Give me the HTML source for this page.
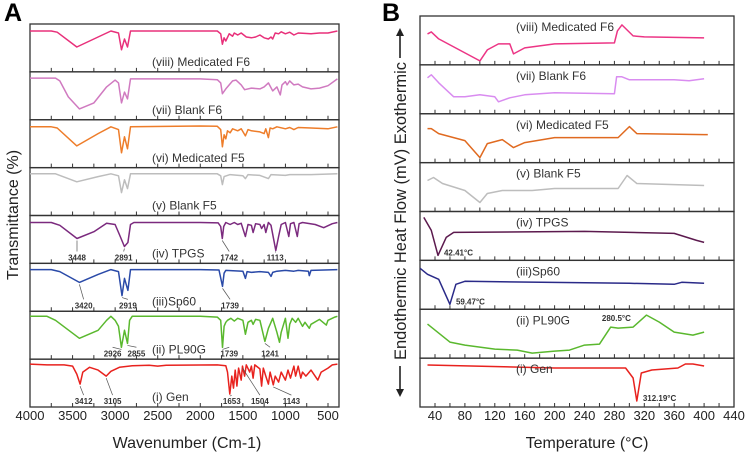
<!DOCTYPE html>
<html><head><meta charset="utf-8"><style>
body{margin:0;background:#fff;}
svg{display:block;font-family:"Liberation Sans",Arial,sans-serif;}
</style></head><body>
<svg id="fig" width="747" height="453" viewBox="0 0 747 453"></svg>
<script>
// ---------- Panel A: FTIR data (wavenumber, transmittance a.u.) ----------
const ftirNames = ["(viii) Medicated F6","(vii) Blank F6","(vi) Medicated F5","(v) Blank F5","(iv) TPGS","(iii)Sp60","(ii) PL90G","(i) Gen"];
const ftirColors = ["#e8307a","#d07ac0","#ee7d2a","#bdbdbd","#7b2a7e","#2a4aa8","#5ab82e","#e8221e"];
const ftirF6 = [[4000,95],[3750,95],[3680,92],[3450,55],[3200,80],[3050,95],[2960,90],[2925,48],[2890,75],[2855,55],[2820,95],[2500,95],[1800,95],[1760,88],[1740,62],[1720,78],[1700,70],[1660,88],[1620,82],[1600,90],[1560,85],[1520,90],[1460,80],[1400,78],[1350,80],[1300,85],[1250,78],[1200,75],[1170,80],[1150,75],[1120,90],[1080,88],[1050,93],[1000,88],[950,92],[900,85],[850,90],[700,88],[600,90],[500,90],[390,95]];
const ftirBlankF6 = [[4000,97],[3700,97],[3650,90],[3550,50],[3420,20],[3250,35],[3100,75],[3000,92],[2960,85],[2925,35],[2890,62],[2855,45],[2820,95],[2000,95],[1800,93],[1760,85],[1740,58],[1700,70],[1660,80],[1620,90],[1580,92],[1520,80],[1480,68],[1400,72],[1300,70],[1250,75],[1200,85],[1150,65],[1100,75],[1060,55],[1040,80],[1000,88],[980,80],[950,90],[900,80],[850,82],[800,75],[700,70],[600,72],[500,78],[390,95]];
const ftirF5 = [[4000,95],[3750,95],[3680,92],[3450,47],[3200,78],[3050,95],[2960,88],[2925,30],[2890,70],[2855,40],[2820,95],[2000,97],[1800,96],[1760,88],[1740,45],[1720,75],[1700,65],[1680,85],[1650,80],[1620,90],[1560,85],[1520,90],[1470,72],[1440,88],[1400,85],[1300,82],[1250,78],[1230,90],[1200,68],[1180,92],[1150,90],[1100,95],[1000,90],[950,93],[900,88],[850,93],[700,92],[500,90],[390,95]];
const ftirBlankF5 = [[4000,97],[3700,97],[3450,77],[3200,90],[3050,97],[2960,92],[2925,50],[2890,82],[2855,60],[2820,97],[1800,97],[1760,92],[1740,70],[1720,90],[1650,95],[1500,92],[1470,85],[1440,95],[1300,93],[1200,85],[1170,95],[1000,93],[950,95],[700,95],[390,97]];
const ftirTPGS = [[4000,95],[3750,95],[3650,88],[3448,55],[3250,72],[3100,93],[3000,90],[2950,65],[2891,35],[2850,45],[2820,90],[2780,95],[2000,95],[1790,94],[1760,85],[1742,55],[1725,85],[1700,95],[1650,90],[1600,95],[1560,90],[1520,93],[1470,60],[1440,90],[1400,88],[1380,70],[1350,92],[1300,90],[1280,80],[1250,90],[1230,70],[1200,95],[1170,88],[1113,25],[1080,60],[1050,90],[1000,95],[960,60],[940,92],[900,95],[860,60],[840,92],[800,95],[650,90],[550,82],[450,92],[390,95]];
const ftirSp60 = [[4000,97],[3750,97],[3650,92],[3420,65],[3200,85],[3050,97],[2960,92],[2919,32],[2890,75],[2850,45],[2820,97],[2000,97],[1780,96],[1739,55],[1720,88],[1700,95],[1500,93],[1470,75],[1450,92],[1400,90],[1300,92],[1200,90],[1170,80],[1150,90],[1100,93],[1000,95],[900,93],[850,95],[730,93],[720,82],[700,95],[390,97]];
const ftirPL90G = [[4000,100],[3800,100],[3700,90],[3420,45],[3200,65],[3100,90],[3050,100],[3000,90],[2960,75],[2926,22],[2890,65],[2855,32],[2830,90],[2800,100],[2000,100],[1800,98],[1760,90],[1739,22],[1720,75],[1700,85],[1680,90],[1640,95],[1600,88],[1560,95],[1500,90],[1470,55],[1440,85],[1400,90],[1380,80],[1350,92],[1300,90],[1241,37],[1200,70],[1170,85],[1150,95],[1100,60],[1070,35],[1050,60],[1000,95],[970,45],[950,80],[920,95],[880,85],[850,95],[800,75],[770,85],[720,70],[700,80],[600,92],[520,78],[500,90],[420,98],[390,100]];
const ftirGen = [[4000,100],[3800,98],[3600,98],[3500,95],[3450,75],[3412,50],[3380,80],[3300,92],[3200,85],[3105,70],[3050,82],[2950,92],[2800,96],[2600,97],[2500,95],[2400,97],[1800,98],[1700,96],[1680,80],[1653,25],[1630,70],[1610,40],[1590,85],[1570,45],[1550,90],[1520,60],[1504,95],[1480,70],[1460,98],[1420,80],[1400,95],[1380,65],[1360,98],[1300,88],[1280,45],[1260,90],[1230,70],[1200,50],[1180,80],[1143,48],[1120,70],[1080,55],[1050,80],[1000,60],[970,85],[940,65],[900,95],[880,70],[850,95],[820,65],[800,80],[760,70],[700,85],[620,60],[580,80],[500,90],[450,98],[390,100]];
const ftirSeries = [ftirF6,ftirBlankF6,ftirF5,ftirBlankF5,ftirTPGS,ftirSp60,ftirPL90G,ftirGen];
const ftirTicks = [4000,3500,3000,2500,2000,1500,1000,500];
// annotations: [panelIndex, wavenumber, value at peak, label, label wavenumber]
const ftirPeaks = [[4,3448,55,"3448",3448],[4,2891,35,"2891",2900],[4,1742,55,"1742",1660],[4,1113,25,"1113",1120],[5,3420,65,"3420",3370],[5,2919,32,"2919",2850],[5,1739,55,"1739",1650],[6,2926,22,"2926",3030],[6,2855,32,"2855",2750],[6,1739,22,"1739",1660],[6,1241,37,"1241",1180],[7,3412,50,"3412",3370],[7,3105,70,"3105",3030],[7,1653,25,"1653",1630],[7,1504,95,"1504",1300],[7,1143,48,"1143",930]];

// ---------- Panel B: DSC data (temperature °C, heat flow a.u.) ----------
const dscNames = ["(viii) Medicated F6","(vii) Blank F6","(vi) Medicated F5","(v) Blank F5","(iv) TPGS","(iii)Sp60","(ii) PL90G","(i) Gen"];
const dscColors = ["#ec3585","#d98cf0","#e06a20","#bdbdbd","#5c1a4e","#2a2a88","#5ab82e","#e8221e"];
const dscF6 = [[30,31],[35,33],[45,26],[100,4],[110,15],[125,21],[140,21],[145,11],[160,17],[200,21],[280,22],[284,34],[290,40],[305,29],[320,28],[400,27]];
const dscBlankF6 = [[30,36],[35,39],[45,31],[65,17],[80,17],[100,19],[120,17],[125,12],[140,16],[160,19],[200,21],[280,20],[283,37],[290,37],[300,34],[360,34],[380,33],[400,35]];
const dscF5 = [[30,34],[35,34],[45,29],[80,22],[100,5],[110,19],[130,23],[145,15],[160,20],[200,25],[285,25],[300,36],[310,29],[400,28],[405,28]];
const dscBlankF5 = [[30,31],[38,34],[50,28],[80,21],[100,9],[110,18],[130,21],[170,21],[200,23],[285,23],[297,36],[310,28],[400,26]];
const dscTPGS = [[25,43],[35,30],[44,5],[55,23],[65,28],[240,29],[360,27],[390,20],[400,18]];
const dscSp60 = [[20,41],[30,35],[45,30],[60,5],[68,25],[80,28],[300,26],[360,25],[370,27],[400,26]];
const dscPL90G = [[30,34],[60,16],[80,13],[120,9],[150,8],[170,5],[200,7],[220,8],[240,13],[260,14],[275,31],[285,30],[305,31],[323,43],[340,36],[360,26],[385,23],[400,26]];
const dscGen = [[30,42],[200,39],[295,39],[305,29],[310,6],[316,34],[330,37],[365,39],[375,43],[385,43],[400,41]];
const dscSeries = [dscF6,dscBlankF6,dscF5,dscBlankF5,dscTPGS,dscSp60,dscPL90G,dscGen];
const dscTicks = [40,80,120,160,200,240,280,320,360,400,440];
// [panelIndex, temperature, value, label]
const dscPeaks = [[4,44,5,"42.41°C"],[5,60,5,"59.47°C"],[6,280,31,"280.5°C"],[7,310,6,"312.19°C"]];

const NS="http://www.w3.org/2000/svg";
const svg=document.getElementById('fig');
function mk(tag,attrs,parent){const e=document.createElementNS(NS,tag);for(const k in attrs)e.setAttribute(k,attrs[k]);(parent||svg).appendChild(e);return e;}

const aL=30,aR=339,aT=24,aB=407,aH=(aB-aT)/8;
const ax=w=>aL+(4000-w)*(298/3500);
const ay=(i,v)=>aT+i*aH+5+(100-v)*0.4;
const bL=420,bR=734,bT=16,bB=407,bH=(bB-bT)/8;
const bx=t=>435+(t-40)*(299/400);
const by=(i,v)=>bT+i*bH+bH-v;

function panel(gName,L,R,T,B,H,series,colors,names,xf,yf,tickStep,tickMin,tickMax,labelX,labelDy){
  const g=mk('g',{});
  
  
  for(let i=0;i<8;i++){
    const top=T+i*H;
    const r=mk('rect',{x:L,y:top,width:R-L,height:H,fill:'none',stroke:'#333','stroke-width':1.3},g);
    
    
    for(let t=tickMin;t<=tickMax;t+=tickStep){
      const x=xf(t);
      if(x<=L+1||x>=R-1)continue;
      const tk=mk('line',{x1:x,x2:x,y1:top+H,y2:top+H-4,stroke:'#333','stroke-width':1},g);
      
      
    }
    const pts=series[i].map(p=>xf(p[0]).toFixed(1)+','+yf(i,p[1]).toFixed(1)).join(' ');
    const pl=mk('polyline',{points:pts,fill:'none',stroke:colors[i],'stroke-width':1.5,'stroke-linejoin':'round'},g);
    
    
    const tx=mk('text',{x:labelX,y:top+labelDy,'font-size':12,fill:'#333','text-anchor':'start'},g);
    tx.textContent=names[i];
    
    
  }
  return g;
}
panel('ftir-panel',aL,aR,aT,aB,aH,ftirSeries,ftirColors,ftirNames,ax,ay,250,250,4000,152,42);
panel('dsc-panel',bL,bR,bT,bB,bH,dscSeries,dscColors,dscNames,bx,by,20,20,440,516,15);

ftirPeaks.forEach(p=>{
  const x=ax(p[1]),yp=ay(p[0],p[2]);const lx=ax(p[4]);const ly=aT+p[0]*aH+45;
  const a=mk('line',{x1:lx,x2:x,y1:ly-9,y2:yp+2,stroke:'#555','stroke-width':0.7});
  
  
  const t=mk('text',{x:lx,y:ly,'font-size':8,'font-weight':'bold',fill:'#333','text-anchor':'middle'});
  t.textContent=p[3];
  
  
});
dscPeaks.forEach(p=>{
  const x=bx(p[1]),yp=by(p[0],p[2]);
  let tx=x+6,ty=yp,anchor='start';
  if(p[0]===6){tx=x+2;ty=yp-6;anchor='middle';}
  const t=mk('text',{x:tx,y:ty,'font-size':8,'font-weight':'bold',fill:'#333','text-anchor':anchor});
  t.textContent=p[3];
  
  
});

ftirTicks.forEach(w=>{
  const t=mk('text',{x:ax(w),y:420,'font-size':13,fill:'#222','text-anchor':'middle'});
  t.textContent=w;
  
  
});
dscTicks.forEach(v=>{
  const t=mk('text',{x:bx(v),y:420,'font-size':13,fill:'#222','text-anchor':'middle'});
  t.textContent=v;
  
  
});
</script>
<svg style="position:absolute;left:0;top:0" width="747" height="453">
<text x="4" y="21" font-size="25" font-weight="bold" fill="#000" font-family="Liberation Sans, sans-serif">A</text>
<text x="382" y="21" font-size="25" font-weight="bold" fill="#000" font-family="Liberation Sans, sans-serif">B</text>
<text x="187" y="448" font-size="16" fill="#222" text-anchor="middle" font-family="Liberation Sans, sans-serif">Wavenumber (Cm-1)</text>
<text x="587" y="448" font-size="16" fill="#222" text-anchor="middle" font-family="Liberation Sans, sans-serif">Temperature (°C)</text>
<text transform="translate(18,215) rotate(-90)" font-size="16" fill="#222" text-anchor="middle" font-family="Liberation Sans, sans-serif">Transmittance (%)</text>
<text transform="translate(406,211) rotate(-90)" font-size="16.5" fill="#222" text-anchor="middle" textLength="298" lengthAdjust="spacingAndGlyphs" font-family="Liberation Sans, sans-serif">Endothermic  Heat Flow (mV)  Exothermic</text>
<g><line x1="400" y1="58" x2="400" y2="32" stroke="#222" stroke-width="1.6"/><polygon points="396,36 404,36 400,28" fill="#222"/></g>
<g><line x1="400" y1="366" x2="400" y2="393" stroke="#222" stroke-width="1.6"/><polygon points="396,389 404,389 400,397" fill="#222"/></g>
</svg>
</body></html>
